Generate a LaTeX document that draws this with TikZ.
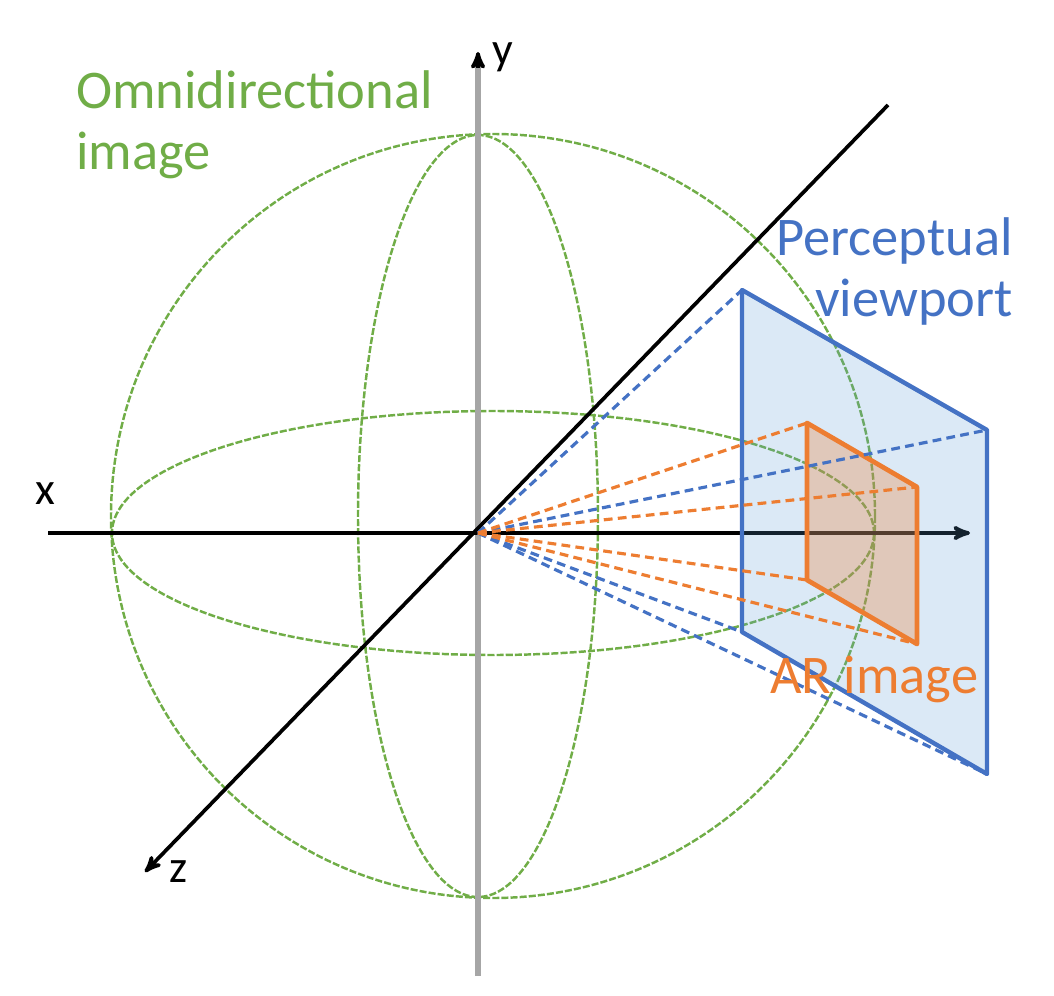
\documentclass[tikz,border=0pt]{standalone}
\usepackage{fontspec}
\setmainfont{Carlito}
\usepackage{tikz}
\usetikzlibrary{calc}
\usetikzlibrary{positioning}
\usetikzlibrary{arrows}
\definecolor{omnigreen}{RGB}{112,173,71}
\definecolor{vpblue}{RGB}{68,114,196}
\definecolor{vpfill}{RGB}{91,155,213}
\definecolor{arorange}{RGB}{237,125,49}
\definecolor{axisgray}{RGB}{166,166,166}
\tikzset{
  lbl/.style = {inner sep=0pt, font=\fontsize{31}{35}\selectfont},    % caption text
  ax_lbl/.style = {inner sep=0pt, black, font=\fontsize{26}{30}\selectfont}, % axis name
  sph/.style = {draw=omnigreen, line width=1.4pt,
    dash pattern=on 4pt off 1.2pt},                                 % sphere line
  ax/.style = {->, black, line width=2.1pt},                         % axis
  vp_ray/.style = {vpblue, line width=1.8pt,
    dash pattern=on 5pt off 3pt},                                   % blue ray
  ar_ray/.style = {arorange, line width=1.8pt,
    dash pattern=on 5pt off 3pt},                                   % orange ray
  vp_plane/.style = {draw=vpblue, line width=2.5pt, line join=round,
    fill=vpfill, fill opacity=0.22},                                % viewport
  ar_plane/.style = {draw=arorange, line width=2.7pt, line join=round,
    fill=arorange, fill opacity=0.3}                                % AR image
}

\begin{document}
\begin{tikzpicture}[x=0.02cm, y=-0.02cm, >=stealth']
  \useasboundingbox (0,0) rectangle (1054,996);
  % sphere
  \draw[sph] (493,516) circle [radius=382];
  \draw[sph] (493,533) ellipse [x radius=381, y radius=122];
  \draw[sph] (478,516) ellipse [x radius=120, y radius=381];
  % axes
  \coordinate (O) at (478,533);
  \coordinate (ytop) at (478,52);
  \coordinate (ybot) at (478,976);
  \coordinate (xl) at (48,533);
  \coordinate (xr) at (970,533);
  \coordinate (zt) at (888,105);
  \coordinate (zb) at (145,872);
  \draw[axisgray, line width=3.2pt] (ybot) -- ($(ytop)+(0,10)$);
  \draw[ax] ($(ytop)+(0,16)$) -- (ytop);
  \draw[ax] (xl) -- (xr);
  \draw[ax] (zt) -- (zb);
  % planes
  \coordinate (vp1) at (742,290);
  \coordinate (vp2) at (987,430);
  \coordinate (vp3) at (987,774);
  \coordinate (vp4) at (742,632);
  \coordinate (ar1) at (807,423);
  \coordinate (ar2) at (917,487);
  \coordinate (ar3) at (917,644);
  \coordinate (ar4) at (807,580);
  \draw[vp_plane] (vp1) -- (vp2) -- (vp3) -- (vp4) -- cycle;
  \draw[ar_plane] (ar1) -- (ar2) -- (ar3) -- (ar4) -- cycle;
  % rays
  \foreach \c in {vp1,vp2,vp3,vp4}
    \draw[vp_ray] (O) -- (\c);
  \foreach \c in {ar1,ar2,ar3,ar4}
    \draw[ar_ray] (O) -- (\c);
  % labels
  \node[lbl, omnigreen, align=left, anchor=base west] (omni) at (76,170)
    {Omnidirectional\\image};
  \node[lbl, vpblue, align=right, anchor=base east] (vptext) at (1013,317)
    {Perceptual\\viewport};
  \node[lbl, arorange, anchor=base west] (artext) at (770,693) {AR image};
  \node[ax_lbl, anchor=base] (xlbl) at (45,504) {x};
  \node[ax_lbl, anchor=base] (ylbl) at (503,65) {y};
  \node[ax_lbl, anchor=base] (zlbl) at (179,882) {z};
\end{tikzpicture}
\end{document}
